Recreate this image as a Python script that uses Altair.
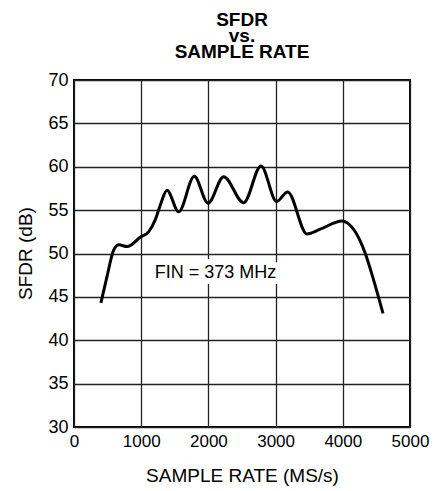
import altair as alt
import pandas as pd

# Curve
sample_rate = [400, 490, 590, 665, 790, 990, 1110, 1210, 1285, 1384, 1558, 1790,
               1994, 2227, 2525, 2783, 3015, 3180, 3467, 3665, 3988, 4186, 4335,
               4460, 4598]
sfdr = [44.3, 47.3, 50.4, 51.0, 50.8, 51.9, 52.5, 53.9, 55.6, 57.3, 54.8, 58.9,
        55.8, 58.85, 55.85, 60.1, 56.0, 57.1, 52.25, 52.8, 53.75, 52.5, 50.0,
        46.9, 43.1]

x_ticks = [0, 1000, 2000, 3000, 4000, 5000]
y_ticks = [30, 35, 40, 45, 50, 55, 60, 65, 70]

label_text = ["FIN = 373 MHz"]
label_x = [2106]
label_y = [47.8]

FONT = "Liberation Sans"

df = pd.DataFrame({"rate": sample_rate, "sfdr": sfdr})
lab = pd.DataFrame({"t": label_text, "x": label_x, "y": label_y})

xscale = alt.Scale(domain=[0, 5000], nice=False)
yscale = alt.Scale(domain=[30, 70], nice=False)

line = alt.Chart(df).mark_line(
    color="black", strokeWidth=3, interpolate="monotone"
).encode(
    x=alt.X("rate:Q", scale=xscale,
            axis=alt.Axis(values=x_ticks, format="d", title="SAMPLE RATE (MS/s)",
                          titlePadding=17, labelFontSize=17)),
    y=alt.Y("sfdr:Q", scale=yscale,
            axis=alt.Axis(values=y_ticks, format="d", title="SFDR (dB)",
                          titleX=-49, titleY=173, titleAngle=-90,
                          titleAlign="center", titleBaseline="middle")),
)

halo = alt.Chart(lab).mark_text(
    font=FONT, fontSize=18, color="white", stroke="white", strokeWidth=12,
    strokeJoin="round"
).encode(x=alt.X("x:Q", scale=xscale), y=alt.Y("y:Q", scale=yscale), text="t:N")

text = alt.Chart(lab).mark_text(
    font=FONT, fontSize=18, color="black"
).encode(x=alt.X("x:Q", scale=xscale), y=alt.Y("y:Q", scale=yscale), text="t:N")

chart = alt.layer(halo, text, line).properties(
    width=336,
    height=347,
    background="white",
    autosize=alt.AutoSizeParams(type="none"),
    padding={"left": 66, "top": 72, "right": 20, "bottom": 64},
    title=alt.TitleParams(
        text=["SFDR", "vs.", "SAMPLE RATE"],
        font=FONT, fontSize=19, fontWeight="bold", color="black",
        lineHeight=16, anchor="middle", baseline="bottom", offset=0, dy=10,
    ),
).configure_view(
    stroke="black", strokeWidth=2
).configure_axis(
    grid=True, gridColor="#222", gridWidth=1.3, gridOpacity=1,
    domain=False, ticks=False, labelFlush=False,
    labelFont=FONT, labelFontSize=18, labelColor="black", labelPadding=6,
    titleFont=FONT, titleFontSize=19, titleFontWeight="normal", titleColor="black",
)

chart.save("out.html", embed_options={"renderer": "svg", "actions": False})
